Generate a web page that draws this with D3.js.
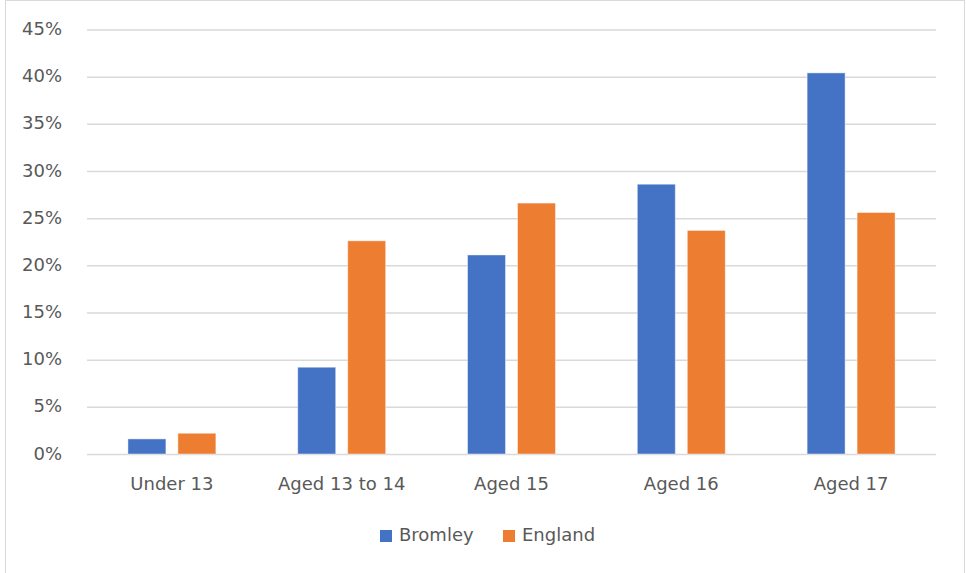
<!DOCTYPE html>
<html>
<head>
<meta charset="utf-8">
<script src="https://cdn.jsdelivr.net/npm/d3@7"></script>
<style>
  html, body { margin: 0; padding: 0; background: #fff; }
  svg { display: block; }
  text { font-family: "DejaVu Sans", sans-serif; fill: #595959; }
</style>
</head>
<body>
<svg id="chart" width="966" height="573"></svg>
<script>
// Share of cases by age group
const categories = ["Under 13", "Aged 13 to 14", "Aged 15", "Aged 16", "Aged 17"];
const seriesNames = ["Bromley", "England"];
const bromley = [1.6, 9.2, 21.1, 28.6, 40.4];
const england = [2.2, 22.6, 26.6, 23.7, 25.6];
const yTicks = [0, 5, 10, 15, 20, 25, 30, 35, 40, 45];
const colors = ["#4472C4", "#ED7D31"];

const svg = d3.select("#chart");
const W = 966, H = 573;
const margin = { left: 87, right: 30, top: 29.5, bottom: 119 };
const fontSize = 18;

// chart frame
svg.append("rect")
  .attr("x", 5.5).attr("y", 0.5)
  .attr("width", 959).attr("height", 580)
  .attr("fill", "none").attr("stroke", "#D9D9D9").attr("stroke-width", 1);

const x0 = d3.scaleBand()
  .domain(categories)
  .range([margin.left, W - margin.right])
  .paddingInner(0.482).paddingOuter(0.241);

const x1 = d3.scaleBand()
  .domain(seriesNames)
  .range([0, x0.bandwidth()])
  .paddingInner(0.24);

const y = d3.scaleLinear()
  .domain([0, 45])
  .range([H - margin.bottom, margin.top]);

// gridlines + y labels
const yAxis = d3.axisLeft(y)
  .tickValues(yTicks)
  .tickFormat(d => d + "%")
  .tickSize(-(W - margin.right - margin.left))
  .tickPadding(25);

const gy = svg.append("g")
  .attr("transform", `translate(${margin.left},0)`)
  .call(yAxis);
gy.select(".domain").remove();
gy.selectAll(".tick line").attr("stroke", "#D9D9D9").attr("stroke-width", 1.5);
gy.selectAll(".tick text")
  .attr("font-size", fontSize)
  .attr("dy", "0.28em")
  .style("font-family", "'DejaVu Sans', sans-serif")
  .attr("fill", "#595959");

// bars
const rows = categories.map((c, i) => ({ cat: c, values: [bromley[i], england[i]] }));
const groups = svg.append("g").selectAll("g")
  .data(rows).join("g")
  .attr("transform", d => `translate(${x0(d.cat)},0)`);

groups.selectAll("rect")
  .data(d => d.values.map((v, j) => ({ name: seriesNames[j], v, j })))
  .join("rect")
  .attr("x", d => x1(d.name))
  .attr("width", x1.bandwidth())
  .attr("y", d => y(d.v))
  .attr("height", d => y(0) - y(d.v))
  .attr("fill", d => colors[d.j])
  .attr("stroke", "#ffffff")
  .attr("stroke-opacity", 0.45)
  .attr("stroke-width", 1);

// category labels
const xAxis = d3.axisBottom(x0).tickSize(0).tickPadding(0);
const gx = svg.append("g")
  .attr("transform", `translate(0,${y(0)})`)
  .call(xAxis);
gx.select(".domain").remove();
gx.selectAll(".tick text")
  .attr("y", 36)
  .attr("dy", 0)
  .attr("font-size", fontSize)
  .style("font-family", "'DejaVu Sans', sans-serif")
  .attr("fill", "#595959");

// legend
const legendX = [380, 503];
const legend = svg.append("g");
seriesNames.forEach((name, i) => {
  legend.append("rect")
    .attr("x", legendX[i]).attr("y", 530)
    .attr("width", 12).attr("height", 12)
    .attr("fill", colors[i]);
  legend.append("text")
    .attr("x", legendX[i] + 19).attr("y", 541)
    .attr("font-size", fontSize)
    .text(name);
});
</script>
</body>
</html>
